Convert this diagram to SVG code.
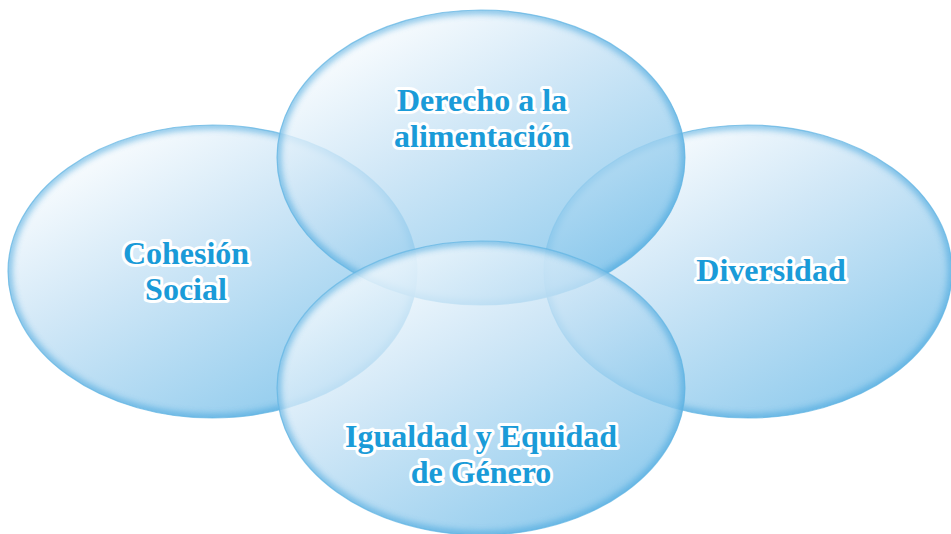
<svg xmlns="http://www.w3.org/2000/svg" width="951" height="534" viewBox="0 0 951 534">
<defs>
<linearGradient id="g" x1="0.15" y1="0.05" x2="0.85" y2="0.95">
<stop offset="0" stop-color="#ffffff"/>
<stop offset="0.4" stop-color="#c6e2f5"/>
<stop offset="1" stop-color="#6fbce8"/>
</linearGradient>
<filter id="blur" x="-10%" y="-10%" width="120%" height="120%">
<feGaussianBlur stdDeviation="3"/>
</filter>
<clipPath id="cL"><ellipse cx="212.5" cy="271.5" rx="204.5" ry="146.5"/></clipPath>
<clipPath id="cT"><ellipse cx="481" cy="157.5" rx="204" ry="147.5"/></clipPath>
<clipPath id="cR"><ellipse cx="748" cy="271.5" rx="204" ry="146.5"/></clipPath>
<clipPath id="cB"><ellipse cx="481" cy="388" rx="204" ry="147"/></clipPath>
</defs>
<style>
.fill{fill:url(#g);opacity:0.8}
.rim{fill:none;stroke:#3fa3dc;stroke-width:8;opacity:0.6}
.edge{fill:none;stroke:#5fb4e3;stroke-width:1.2;opacity:0.7}
.lbl{font-family:"Liberation Serif","Times New Roman",serif;font-weight:bold;font-size:32px;fill:#1a9bd8;stroke:#ffffff;stroke-width:6;stroke-linejoin:round;paint-order:stroke;text-anchor:middle}
</style>
<rect width="951" height="534" fill="#ffffff"/>
<g id="node-cohesion">
<ellipse class="fill" cx="212.5" cy="271.5" rx="204.5" ry="146.5"/>
<g clip-path="url(#cL)"><ellipse class="rim" filter="url(#blur)" cx="212.5" cy="271.5" rx="204.5" ry="146.5"/></g>
<ellipse class="edge" cx="212.5" cy="271.5" rx="204.5" ry="146.5"/>
</g>
<g id="node-diversidad">
<ellipse class="fill" cx="748" cy="271.5" rx="204" ry="146.5"/>
<g clip-path="url(#cR)"><ellipse class="rim" filter="url(#blur)" cx="748" cy="271.5" rx="204" ry="146.5"/></g>
<ellipse class="edge" cx="748" cy="271.5" rx="204" ry="146.5"/>
</g>
<g id="node-derecho">
<ellipse class="fill" cx="481" cy="157.5" rx="204" ry="147.5"/>
<g clip-path="url(#cT)"><ellipse class="rim" filter="url(#blur)" cx="481" cy="157.5" rx="204" ry="147.5"/></g>
<ellipse class="edge" cx="481" cy="157.5" rx="204" ry="147.5"/>
</g>
<g id="node-igualdad">
<ellipse class="fill" cx="481" cy="388" rx="204" ry="147"/>
<g clip-path="url(#cB)"><ellipse class="rim" filter="url(#blur)" cx="481" cy="388" rx="204" ry="147"/></g>
<ellipse class="edge" cx="481" cy="388" rx="204" ry="147"/>
</g>
<g id="labels">
<text class="lbl" x="482" y="111">Derecho a la</text>
<text class="lbl" x="482" y="147">alimentación</text>
<text class="lbl" x="186" y="264">Cohesión</text>
<text class="lbl" x="186" y="300">Social</text>
<text class="lbl" x="771" y="281">Diversidad</text>
<text class="lbl" x="481" y="447">Igualdad y Equidad</text>
<text class="lbl" x="481" y="483">de Género</text>
</g>
<g id="connectors"/>
</svg>
